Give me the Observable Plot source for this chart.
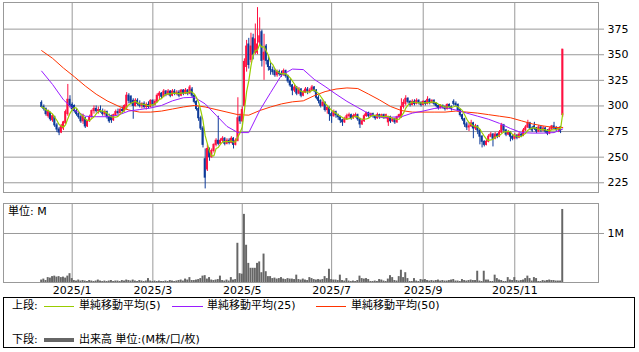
<!DOCTYPE html>
<html><head><meta charset="utf-8">
<script src="https://cdn.jsdelivr.net/npm/d3@7"></script>
<script src="https://cdn.jsdelivr.net/npm/@observablehq/plot@0.6"></script>
<style>
body{margin:0;background:#fff;}
#wrap{position:relative;width:639px;height:352px;overflow:hidden;font-family:"DejaVu Sans","Noto Sans CJK JP",sans-serif;font-size:11px;color:#000;}
#wrap svg{position:absolute;left:0;}
.t{position:absolute;white-space:nowrap;line-height:13px;}
#legend{position:absolute;left:3px;top:297px;width:632px;height:51px;box-sizing:border-box;border:1px solid #000;}
.sw{position:absolute;height:1px;}
</style></head><body><div id="wrap"></div>
<script>
// ---- data (trading-day index 0..239) ----
const opens=[303,299,297,290,293,286,289,281,277,274,278,283,292,306,301,300,295,292,289,285,
288,280,285,289,295,297,295,296,294,292,294,289,290,286,291,294,293,296,295,298,
310,309,305,300,305,302,300,302,299,301,299,305,301,304,310,312,309,314,311,314,
310,314,312,313,310,315,312,315,312,316,310,304,297,288,278,248,238,257,250,256,
262,266,263,266,268,263,266,264,268,262,266,289,285,300,338,360,345,366,352,352,
362,372,345,358,344,338,335,334,330,333,331,330,334,329,324,320,315,318,312,316,
310,313,316,314,315,318,315,308,305,300,303,296,298,292,290,294,291,289,286,284,
287,290,291,288,290,291,287,282,285,290,293,290,292,290,288,291,289,291,288,284,
289,285,287,284,289,289,299,302,307,304,301,304,302,305,303,301,304,302,306,303,
305,302,300,298,300,299,297,301,299,304,302,301,296,291,287,282,279,280,283,278,
280,276,270,265,262,265,270,272,268,272,270,274,281,276,272,274,270,268,271,269,
272,271,276,279,283,278,280,278,275,279,276,278,275,273,277,280,278,277,279,291];
const highs=[305,301,298,296,294,292,290,283,279,282,285,296,321,310,303,301,297,294,291,292,
289,286,291,296,300,300,299,300,297,296,295,292,291,292,296,297,298,299,301,313,
312,310,307,307,307,305,303,304,303,304,306,306,306,312,314,313,316,315,316,315,
316,316,315,315,316,316,317,316,320,318,311,305,299,290,280,258,262,259,258,263,
268,290,268,270,269,268,268,270,269,268,308,292,299,346,364,366,371,370,380,396,
386,374,370,360,349,342,338,336,335,335,334,336,335,330,326,321,320,319,318,317,
315,318,318,317,320,319,316,310,306,305,304,300,299,294,296,295,292,290,287,289,
292,293,292,292,293,292,288,287,292,294,294,293,293,291,293,292,292,292,292,290,
290,288,288,290,292,307,306,310,308,305,306,306,307,306,304,305,305,309,307,306,
306,303,301,301,301,300,302,302,300,306,304,302,297,292,288,284,283,286,284,282,
281,277,271,266,267,272,274,273,274,273,276,283,282,277,276,275,271,273,272,274,
273,278,281,286,284,280,284,279,281,280,280,279,277,279,281,284,280,279,280,355];
const lows=[298,295,290,288,285,284,279,274,271,273,276,282,290,298,295,293,290,287,283,282,
278,279,284,288,292,293,292,293,290,290,287,283,283,285,290,291,292,293,294,296,
302,301,287,299,300,298,297,297,296,297,298,299,300,303,306,307,308,309,310,308,
309,310,310,308,309,310,311,310,311,308,302,295,285,276,259,219,236,246,249,254,
260,261,262,264,261,262,262,263,258,261,265,282,284,299,333,336,342,345,350,350,
358,338,325,340,334,330,330,328,328,329,328,329,327,322,318,310,313,310,311,308,
309,312,311,312,314,313,306,302,298,299,294,292,285,283,289,288,286,283,280,283,
286,288,286,287,288,285,278,281,284,289,288,289,288,286,287,287,288,287,287,280,
283,284,282,283,288,288,297,300,302,299,300,300,301,301,299,300,300,301,301,302,
300,298,296,297,297,295,296,297,295,300,299,294,289,285,279,276,275,279,268,276,
272,262,259,260,261,264,269,260,267,268,269,273,274,270,271,265,266,267,267,268,
269,270,275,278,276,274,276,273,274,274,275,273,271,272,276,277,275,274,273,289];
const closes=[299,297,292,294,287,290,281,277,274,280,284,294,306,300,297,295,292,289,285,290,
280,285,289,295,297,295,296,294,292,294,289,285,286,291,294,293,296,295,300,310,
305,303,300,305,302,300,302,299,301,299,305,301,304,310,312,309,314,311,314,310,
314,312,313,310,315,312,315,312,318,310,304,297,288,278,262,230,258,250,256,262,
266,263,266,268,263,266,264,268,262,266,288,285,296,343,358,340,358,350,365,360,
368,344,352,344,338,335,333,330,333,331,330,334,329,324,320,315,318,312,316,310,
313,316,314,315,318,315,308,305,300,303,296,298,292,290,294,291,289,286,284,287,
290,291,288,290,291,287,282,285,290,293,290,292,290,288,291,289,291,288,291,289,
285,287,284,289,291,299,303,307,304,301,304,302,305,303,301,304,302,306,303,305,
302,300,298,300,299,297,301,299,297,302,301,296,291,287,282,279,280,283,278,280,
276,270,265,262,265,270,272,268,272,270,274,281,276,272,274,270,268,271,269,272,
271,276,279,283,278,276,278,275,279,276,278,275,273,277,280,278,277,278,275,355];
const volumesM=[0.05,0.07,0.04,0.1,0.09,0.12,0.13,0.11,0.12,0.1,
0.11,0.09,0.13,0.18,0.08,0.04,0.03,0.05,0.03,0.04,
0.03,0.02,0.04,0.03,0.02,0.03,0.05,0.03,0.02,0.03,
0.02,0.03,0.04,0.02,0.03,0.03,0.02,0.04,0.03,0.05,
0.04,0.03,0.05,0.03,0.02,0.04,0.03,0.02,0.03,0.08,
0.03,0.02,0.03,0.02,0.03,0.02,0.02,0.03,0.02,0.04,
0.03,0.02,0.03,0.04,0.05,0.03,0.07,0.05,0.1,0.04,
0.04,0.05,0.06,0.08,0.13,0.14,0.07,0.1,0.05,0.04,
0.05,0.06,0.13,0.04,0.03,0.05,0.03,0.1,0.05,0.06,
0.8,0.18,0.17,1.39,0.76,0.39,0.29,0.29,0.29,0.39,
0.42,0.2,0.58,0.22,0.12,0.12,0.08,0.09,0.07,0.08,
0.1,0.07,0.06,0.08,0.07,0.07,0.06,0.15,0.06,0.05,
0.07,0.05,0.04,0.1,0.08,0.06,0.05,0.06,0.05,0.06,
0.12,0.08,0.27,0.06,0.05,0.05,0.04,0.15,0.04,0.03,
0.08,0.03,0.02,0.03,0.02,0.04,0.13,0.08,0.07,0.08,
0.06,0.02,0.02,0.03,0.02,0.06,0.05,0.03,0.02,0.07,
0.14,0.1,0.04,0.03,0.12,0.25,0.1,0.2,0.08,0.02,
0.02,0.08,0.03,0.02,0.06,0.05,0.06,0.04,0.03,0.04,
0.03,0.04,0.05,0.03,0.04,0.03,0.03,0.04,0.05,0.06,
0.03,0.03,0.02,0.06,0.04,0.03,0.04,0.05,0.04,0.04,
0.23,0.03,0.02,0.23,0.05,0.05,0.02,0.02,0.15,0.08,
0.05,0.04,0.02,0.02,0.1,0.05,0.04,0.1,0.04,0.03,
0.04,0.05,0.08,0.13,0.08,0.03,0.1,0.08,0.02,0.02,
0.04,0.03,0.04,0.05,0.04,0.04,0.03,0.03,0.03,1.49];
const maIdx=[0,5,10,15,20,25,30,35,40,45,50,55,60,65,70,75,80,85,90,95,100,105,110,115,120,
125,130,135,140,145,150,155,160,165,170,175,180,185,190,195,200,205,210,215,220,225,230,235,239];
const ma25Vals=[334,321,306,296,290,289.5,289.5,291,295,296.5,298,300.5,305,308,308.5,302,291,280,274,274,295.5,313,330,336,335.5,
326,319,311.5,304.5,298.5,292.5,289,289,289.5,293,295,297.5,298.5,296,293,290,287,283,278,274,273.5,273.5,274,277.5];
const ma50Vals=[354,346.5,337,328.5,319.5,311.5,305,300,296,294,294,295,297,299,300.5,299,296.5,294,291.5,291,295.5,299,302,304,305,
310,314,316.5,317.6,317,311.5,305.8,299.5,295.5,294,294,294,294,295,294,293,291.5,290,288.5,285.5,282.5,280.5,279,279];
const priceTicks=[225,250,275,300,325,350,375];
const monthTickIdx=[14,51,92,133,175,217];
const monthLabels=["2025/1","2025/3","2025/5","2025/7","2025/9","2025/11"];

// ---- build ----
const FONT='"DejaVu Sans","Noto Sans CJK JP",sans-serif';
const UP="#ff1040", DOWN="#0d3a99", GRID="#999";
const idx=d3.range(closes.length);
const candles=idx.map(i=>({i,o:opens[i],h:highs[i],l:lows[i],c:closes[i]}));
const ma5=idx.map(i=>({i,v:d3.mean(closes.slice(Math.max(0,i-4),i+1))}));
const ma25=maIdx.map((i,k)=>({i,v:ma25Vals[k]}));
const ma50=maIdx.map((i,k)=>({i,v:ma50Vals[k]}));
const vols=idx.map(i=>({i,v:volumesM[i]}));
const labelOf=new Map(monthTickIdx.map((t,k)=>[t,monthLabels[k]]));
const xDomain=[-17.5,255.4];
const col=d=>d.c>=d.o?UP:DOWN;

const topPlot=Plot.plot({
  width:639,height:195,marginTop:2,marginBottom:3,marginLeft:3,marginRight:41,
  x:{domain:xDomain,axis:null},
  y:{domain:[215.5,401],axis:null},
  style:{fontFamily:FONT,fontSize:"11px",background:"transparent",overflow:"visible",color:"#000"},
  marks:[
    Plot.ruleY(priceTicks,{stroke:GRID}),
    Plot.ruleX(monthTickIdx,{stroke:GRID}),
    Plot.ruleX(candles,{x:"i",y1:"l",y2:"h",stroke:col,strokeWidth:1}),
    Plot.rect(candles,{x1:d=>d.i-0.45,x2:d=>d.i+0.45,y1:"o",y2:"c",fill:col,insetTop:-0.5,insetBottom:-0.5}),
    Plot.line(ma50,{x:"i",y:"v",stroke:"#ff3300",strokeWidth:1}),
    Plot.line(ma25,{x:"i",y:"v",stroke:"#9a1cff",strokeWidth:1}),
    Plot.line(ma5,{x:"i",y:"v",stroke:"#99cc00",strokeWidth:1.2}),
    Plot.frame({stroke:GRID}),
    Plot.axisY(priceTicks,{anchor:"right",tickSize:5,tickPadding:4,stroke:GRID,label:null})
  ]
});
topPlot.style.top="0px";

const volPlot=Plot.plot({
  width:639,height:105,marginTop:8,marginBottom:18,marginLeft:3,marginRight:41,
  x:{domain:xDomain,axis:null},
  y:{domain:[0,1.612],axis:null},
  style:{fontFamily:FONT,fontSize:"11px",background:"transparent",overflow:"visible",color:"#000"},
  marks:[
    Plot.ruleY([1],{stroke:GRID}),
    Plot.ruleX(monthTickIdx,{stroke:GRID}),
    Plot.rectY(vols,{x1:d=>d.i-0.45,x2:d=>d.i+0.45,y:"v",fill:"#666"}),
    Plot.frame({stroke:GRID}),
    Plot.axisY([1],{anchor:"right",tickSize:5,tickPadding:4,stroke:GRID,tickFormat:d=>d+"M",label:null}),
    Plot.axisX(monthTickIdx,{anchor:"bottom",tickSize:0,tickPadding:4,tickFormat:d=>labelOf.get(d),label:null})
  ]
});
volPlot.style.top="195px";

const wrap=document.getElementById("wrap");
wrap.appendChild(topPlot);
wrap.appendChild(volPlot);

const unit=document.createElement("div");
unit.className="t"; unit.style.left="8px"; unit.style.top="205px"; unit.textContent="単位: M";
wrap.appendChild(unit);

const lg=document.createElement("div"); lg.id="legend";
const items=[
  ["t",8,1,"上段:"],
  ["s",40,8,30,"#99cc00",1],["t",75,1,"単純移動平均(5)"],
  ["s",168,8,31,"#9a1cff",1],["t",203,1,"単純移動平均(25)"],
  ["s",312,8,30,"#ff3300",1],["t",347,1,"単純移動平均(50)"],
  ["t",8,35,"下段:"],
  ["s",40,40,30,"#666",4],["t",75,35,"出来高 単位:(M株/口/枚)"]
];
for(const it of items){
  const e=document.createElement("div");
  if(it[0]==="t"){e.className="t";e.style.left=it[1]+"px";e.style.top=it[2]+"px";e.textContent=it[3];}
  else{e.className="sw";e.style.left=it[1]+"px";e.style.top=it[2]+"px";e.style.width=it[3]+"px";e.style.background=it[4];e.style.height=it[5]+"px";}
  lg.appendChild(e);
}
wrap.appendChild(lg);
</script></body></html>
